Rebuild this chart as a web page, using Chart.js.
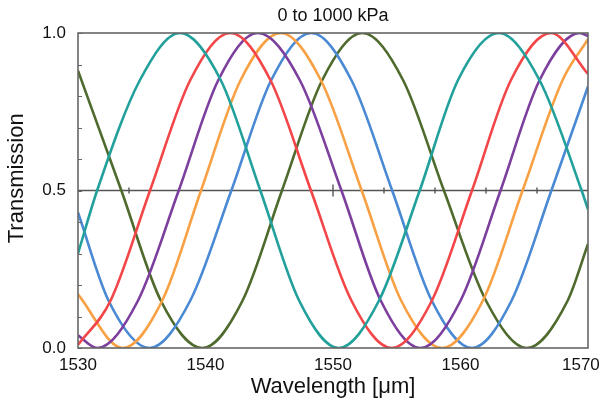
<!DOCTYPE html>
<html>
<head>
<meta charset="utf-8">
<script src="https://cdn.jsdelivr.net/npm/chart.js@4"></script>
<style>
  html, body { margin: 0; padding: 0; background: #fff; }
</style>
</head>
<body>
<canvas id="chart" width="600" height="404"></canvas>
<script>
// Values (wavelength, transmission 0..1).
const tealX   = [1530, 1531.5, 1534.85, 1538.0, 1541.2, 1544.3, 1547.35, 1550.45, 1553.6, 1556.8, 1559.8, 1563.0, 1566.2, 1569.5, 1570];
const tealY   = [0.30, 0.5, 0.85, 1, 0.85, 0.5, 0.15, 0, 0.15, 0.5, 0.85, 1, 0.85, 0.5, 0.44];
const redX    = [1530, 1532.55, 1535.65, 1538.8, 1541.95, 1545.1, 1548.27, 1551.45, 1554.6, 1557.75, 1560.9, 1563.95, 1567.1, 1570];
const redY    = [0.01, 0.15, 0.5, 0.85, 1, 0.85, 0.5, 0.15, 0, 0.15, 0.5, 0.85, 1, 0.87];
const purpleX = [1530, 1531.5, 1534.7, 1537.9, 1541.0, 1544.1, 1547.4, 1550.66, 1553.75, 1556.85, 1560.0, 1563.14, 1566.2, 1569.35, 1570];
const purpleY = [0.04, 0, 0.15, 0.5, 0.85, 1, 0.85, 0.5, 0.15, 0, 0.15, 0.5, 0.85, 1, 0.99];
const orangeX = [1530, 1533.5, 1536.6, 1539.65, 1542.75, 1545.9, 1549.05, 1552.25, 1555.35, 1558.55, 1561.75, 1564.87, 1568.0, 1570];
const orangeY = [0.17, 0, 0.15, 0.5, 0.85, 1, 0.85, 0.5, 0.15, 0, 0.15, 0.5, 0.85, 0.98];
const blueX   = [1530, 1532.4, 1535.6, 1538.8, 1542.03, 1545.15, 1548.3, 1551.45, 1554.64, 1557.75, 1560.9, 1564.0, 1567.13, 1570];
const blueY   = [0.43, 0.15, 0, 0.15, 0.5, 0.85, 1, 0.85, 0.5, 0.15, 0, 0.15, 0.5, 0.83];
const greenX  = [1530, 1533.4, 1536.5, 1539.75, 1542.9, 1546.0, 1549.15, 1552.3, 1555.5, 1558.7, 1562.0, 1565.2, 1568.4, 1570];
const greenY  = [0.88, 0.5, 0.15, 0, 0.15, 0.5, 0.85, 1, 0.85, 0.5, 0.15, 0, 0.15, 0.33];

// Half-transmission reference line and the small marks on it.
const midX    = [1530, 1534, 1550, 1554, 1558, 1562, 1566, 1570];
const midY    = [0.5, 0.5, 0.5, 0.5, 0.5, 0.5, 0.5, 0.5];
const midMark = [0, 3, 6, 3, 3, 3, 3, 0];

const xTicks = [1530, 1540, 1550, 1560, 1570];
const yLabels = [0, 0.5, 1];

const FONT = "Liberation Sans, Arial, sans-serif";
const NB = "\u00a0";

function pts(xs, ys) {
  return xs.map((x, i) => ({ x: x, y: ys[i] }));
}

function curve(label, xs, ys, color) {
  return {
    label: label,
    data: pts(xs, ys),
    borderColor: color,
    borderWidth: 2.6,
    pointRadius: 0,
    cubicInterpolationMode: "monotone",
    fill: false,
    order: 0,
  };
}

// Small inward ticks on the left axis and the frame round the plot.
const frame = {
  id: "frame",
  afterDatasetsDraw(chart) {
    const { ctx, chartArea, scales } = chart;
    const y = scales.y;
    ctx.save();
    ctx.strokeStyle = "#666";
    ctx.lineWidth = 1;
    y.ticks.forEach(t => {
      const py = Math.round(y.getPixelForValue(t.value)) + 0.5;
      ctx.beginPath();
      ctx.moveTo(chartArea.left, py);
      ctx.lineTo(chartArea.left + 4, py);
      ctx.stroke();
    });
    ctx.lineWidth = 1.6;
    ctx.strokeRect(chartArea.left, chartArea.top, chartArea.width, chartArea.height);
    ctx.restore();
  },
};

const ctx = document.getElementById("chart");

new Chart(ctx, {
  type: "line",
  data: {
    datasets: [
      {
        label: "0.5",
        data: pts(midX, midY),
        borderColor: "#555",
        borderWidth: 1.4,
        pointStyle: "line",
        rotation: 90,
        pointRadius: midMark,
        pointBorderColor: "#555",
        pointBorderWidth: 1.4,
        order: 1,
      },
      curve("teal", tealX, tealY, "#22a09b"),
      curve("red", redX, redY, "#f24648"),
      curve("purple", purpleX, purpleY, "#7c3f9e"),
      curve("orange", orangeX, orangeY, "#f8a044"),
      curve("blue", blueX, blueY, "#4a89d3"),
      curve("green", greenX, greenY, "#4e6a2c"),
    ],
  },
  options: {
    responsive: false,
    devicePixelRatio: 1,
    animation: false,
    layout: { padding: { left: 0, right: 12, top: 0, bottom: 0 } },
    plugins: {
      legend: { display: false },
      tooltip: { enabled: false },
      title: {
        display: true,
        text: "0 to 1000 kPa",
        fullSize: false,
        color: "#111",
        font: { family: FONT, size: 18, weight: "normal" },
        padding: { top: 5, bottom: 6.4 },
      },
    },
    scales: {
      x: {
        type: "linear",
        min: 1530,
        max: 1570,
        grid: { display: false, drawTicks: false },
        border: { display: false },
        afterBuildTicks: axis => { axis.ticks = xTicks.map(v => ({ value: v })); },
        ticks: {
          color: "#111",
          padding: 7,
          maxRotation: 0,
          font: { family: FONT, size: 17 },
          // last label is pulled in a little so it stays on the canvas
          callback: v => (v === 1570 ? String(v) + NB + NB + NB : String(v)),
        },
        title: {
          display: true,
          text: "Wavelength [μm]",
          color: "#111",
          font: { family: FONT, size: 22 },
          padding: { top: 0, bottom: 4 },
        },
        afterFit: axis => {
          axis.height = 56;
          axis.paddingLeft = 0;
          axis.paddingRight = 0;
        },
      },
      y: {
        min: 0,
        max: 1,
        grid: { display: false, drawTicks: false },
        border: { display: false },
        ticks: {
          stepSize: 0.1,
          color: "#111",
          padding: 12,
          autoSkip: false,
          font: { family: FONT, size: 17 },
          callback: v => (yLabels.some(l => Math.abs(l - v) < 1e-6) ? v.toFixed(1) : ""),
        },
        title: {
          display: true,
          text: NB + NB + NB + NB + "Transmission",
          color: "#111",
          font: { family: FONT, size: 22 },
          padding: { top: 3.5, bottom: 0 },
        },
        afterFit: axis => {
          axis.width = 78;
        },
      },
    },
  },
  plugins: [frame],
});
</script>
</body>
</html>
